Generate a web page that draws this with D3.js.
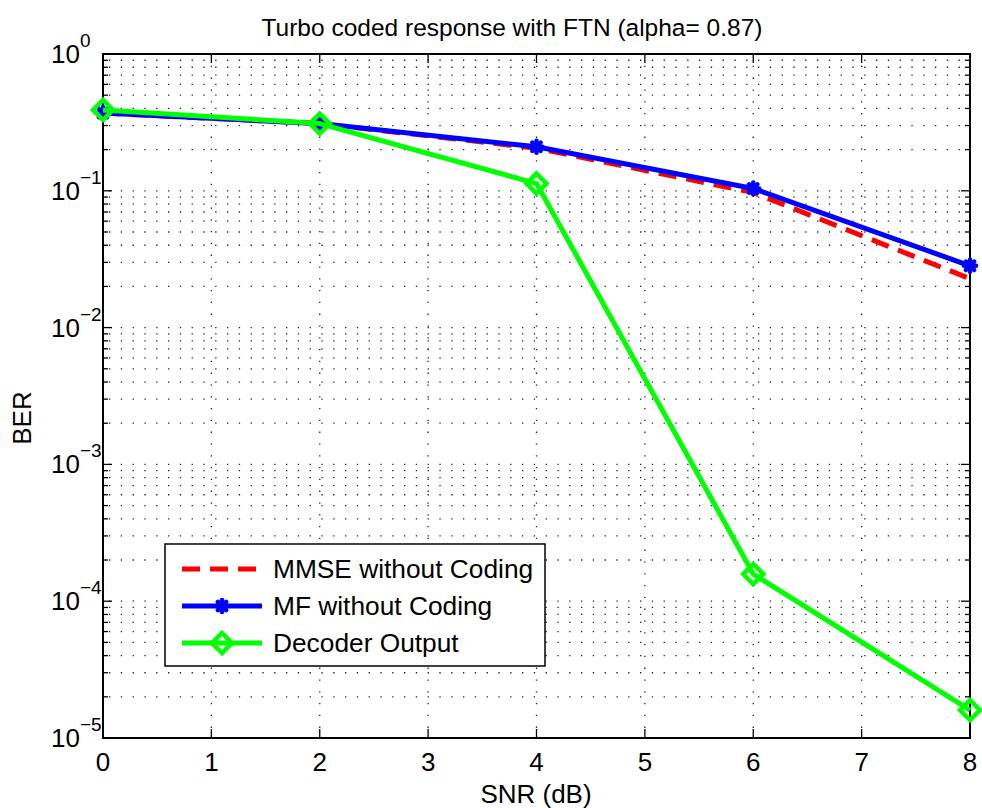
<!DOCTYPE html>
<html><head><meta charset="utf-8">
<script src="https://cdn.jsdelivr.net/npm/d3@7"></script>
<style>body{margin:0;background:#fff;} svg{display:block;} text{font-family:"Liberation Sans",Arial,sans-serif;fill:#000;}</style>
</head><body>
<svg id="c" width="982" height="808"></svg>
<script>
const snr = [0, 2, 4, 6, 8];
const mmse = [0.37, 0.31, 0.205, 0.097, 0.0228];
const mf = [0.37, 0.31, 0.21, 0.104, 0.0283];
const decoder = [0.39, 0.31, 0.113, 0.000158, 0.0000160];
const xTicks = [0,1,2,3,4,5,6,7,8];
const yExps = [0,-1,-2,-3,-4,-5];
const titleText = "Turbo coded response with FTN (alpha= 0.87)";
const xLabel = "SNR (dB)";
const yLabel = "BER";
const legendLabels = ["MMSE without Coding","MF without Coding","Decoder Output"];

const svg = d3.select("#c");
const L=103, R=970, T=54, B=738;
const x = d3.scaleLinear().domain([0,8]).range([L,R]);
const y = d3.scaleLog().domain([1e-5,1]).range([B,T]);

// grid
const g = svg.append("g");
xTicks.forEach(v=>{
  if(v===0||v===8) return;
  g.append("line").attr("x1",x(v)).attr("x2",x(v)).attr("y1",T).attr("y2",B)
   .attr("stroke","#222").attr("stroke-width",1.3).attr("stroke-dasharray","1.3,10.5");
});
const yMinor=[];
for(let e=-5;e<0;e++){for(let m=1;m<10;m++){const v=m*Math.pow(10,e); if(v>1e-5) yMinor.push(v);}}
yMinor.forEach(v=>{
  g.append("line").attr("x1",L).attr("x2",R).attr("y1",y(v)).attr("y2",y(v))
   .attr("stroke","#222").attr("stroke-width",1.3).attr("stroke-dasharray","1.3,10.5").attr("stroke-dashoffset",-6);
});

// ticks
const tk = svg.append("g").attr("stroke","#000").attr("stroke-width",1.3);
xTicks.forEach(v=>{
  tk.append("line").attr("x1",x(v)).attr("x2",x(v)).attr("y1",B).attr("y2",B-9);
  tk.append("line").attr("x1",x(v)).attr("x2",x(v)).attr("y1",T).attr("y2",T+9);
});
yExps.forEach(e=>{
  const v=Math.pow(10,e);
  tk.append("line").attr("x1",L).attr("x2",L+9).attr("y1",y(v)).attr("y2",y(v));
  tk.append("line").attr("x1",R).attr("x2",R-9).attr("y1",y(v)).attr("y2",y(v));
});
yMinor.forEach(v=>{
  if(Math.abs(Math.log10(v)-Math.round(Math.log10(v)))<1e-9) return;
  tk.append("line").attr("x1",L).attr("x2",L+5).attr("y1",y(v)).attr("y2",y(v));
  tk.append("line").attr("x1",R).attr("x2",R-5).attr("y1",y(v)).attr("y2",y(v));
});

// axes box
svg.append("rect").attr("x",L).attr("y",T).attr("width",R-L).attr("height",B-T)
  .attr("fill","none").attr("stroke","#000").attr("stroke-width",2);

// tick labels
xTicks.forEach(v=>{
  svg.append("text").attr("x",x(v)).attr("y",771).attr("text-anchor","middle")
   .attr("font-size",26).text(v);
});
yExps.forEach(e=>{
  svg.append("text").attr("x",80).attr("y",y(Math.pow(10,e))+9).attr("text-anchor","end").attr("font-size",26).text("10");
  svg.append("text").attr("x",80).attr("y",y(Math.pow(10,e))-7).attr("font-size",19)
   .text(e===0?"0":"\u2212"+(-e));
});

svg.append("text").attr("x",512).attr("y",36).attr("text-anchor","middle").attr("font-size",24.5).text(titleText);
svg.append("text").attr("x",536).attr("y",803).attr("text-anchor","middle").attr("font-size",26).text(xLabel);
svg.append("text").attr("transform","translate(31,"+((T+B)/2+22)+") rotate(-90)").attr("text-anchor","middle").attr("font-size",26).text(yLabel);

// lines
const line = d3.line().x(d=>x(d[0])).y(d=>y(d[1]));
const plot = svg.append("g");
plot.append("path").datum(snr.map((s,i)=>[s,mmse[i]])).attr("d",line)
  .attr("fill","none").attr("stroke","#ff0000").attr("stroke-width",5).attr("stroke-dasharray","18,10");
plot.append("path").datum(snr.map((s,i)=>[s,mf[i]])).attr("d",line)
  .attr("fill","none").attr("stroke","#0000ff").attr("stroke-width",5).attr("stroke-linejoin","round");
function star(gg,cx,cy,s){
  const a=gg.append("g").attr("stroke","#0000ff").attr("stroke-width",4.5).attr("stroke-linecap","round");
  a.append("line").attr("x1",cx-s).attr("x2",cx+s).attr("y1",cy).attr("y2",cy);
  a.append("line").attr("x1",cx).attr("x2",cx).attr("y1",cy-s).attr("y2",cy+s);
  a.append("line").attr("x1",cx-s*0.7).attr("x2",cx+s*0.7).attr("y1",cy-s*0.7).attr("y2",cy+s*0.7);
  a.append("line").attr("x1",cx-s*0.7).attr("x2",cx+s*0.7).attr("y1",cy+s*0.7).attr("y2",cy-s*0.7);
}
snr.forEach((s,i)=>star(plot,x(s),y(mf[i]),6));
plot.append("path").datum(snr.map((s,i)=>[s,decoder[i]])).attr("d",line)
  .attr("fill","none").attr("stroke","#00ff00").attr("stroke-width",5).attr("stroke-linejoin","round");
function diamond(gg,cx,cy,s){
  gg.append("path").attr("d",`M${cx},${cy-s}L${cx+s},${cy}L${cx},${cy+s}L${cx-s},${cy}Z`)
   .attr("fill","none").attr("stroke","#00ff00").attr("stroke-width",4.5);
}
snr.forEach((s,i)=>diamond(plot,x(s),y(decoder[i]),10));

// legend
const lg = svg.append("g");
lg.append("rect").attr("x",165).attr("y",544).attr("width",380).attr("height",122)
  .attr("fill","#fff").attr("stroke","#000").attr("stroke-width",1.5);
const ly=[569,606,643];
lg.append("line").attr("x1",182).attr("x2",262).attr("y1",ly[0]).attr("y2",ly[0])
  .attr("stroke","#ff0000").attr("stroke-width",5).attr("stroke-dasharray","18,10");
lg.append("line").attr("x1",182).attr("x2",262).attr("y1",ly[1]).attr("y2",ly[1])
  .attr("stroke","#0000ff").attr("stroke-width",5);
star(lg,222,ly[1],6);
lg.append("line").attr("x1",182).attr("x2",262).attr("y1",ly[2]).attr("y2",ly[2])
  .attr("stroke","#00ff00").attr("stroke-width",5);
diamond(lg,222,ly[2],10);
legendLabels.forEach((t,i)=>{
  lg.append("text").attr("x",273).attr("y",ly[i]+9).attr("font-size",26.3).text(t);
});
</script>
</body></html>
